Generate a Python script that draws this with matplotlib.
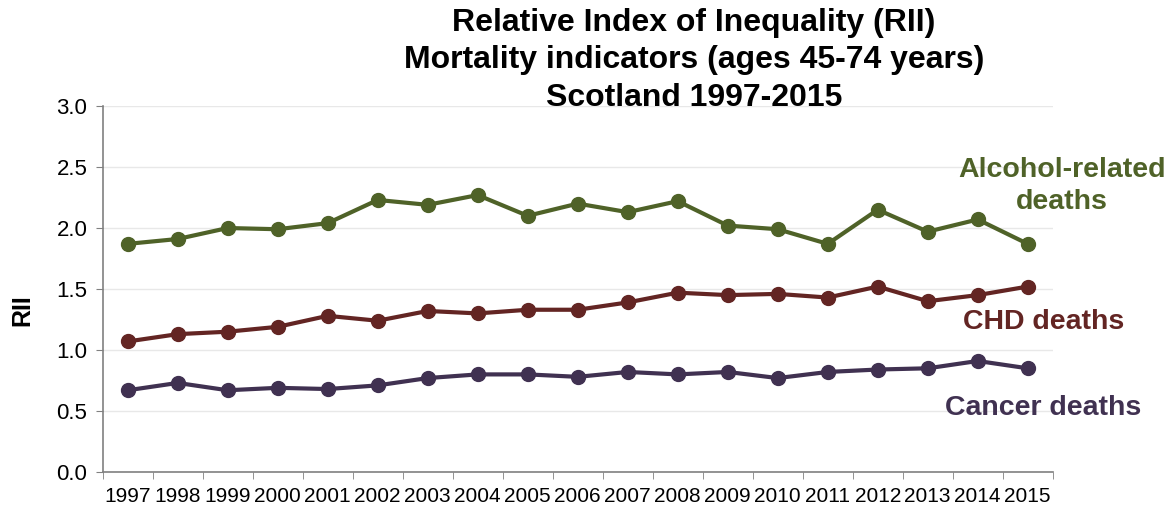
import matplotlib.pyplot as plt
import numpy as np

plt.rcParams['font.family'] = ['Liberation Sans', 'DejaVu Sans']

# RII values
years = [str(y) for y in range(1997, 2016)]
alcohol = [1.87, 1.91, 2.00, 1.99, 2.04, 2.23, 2.19, 2.27, 2.10, 2.20,
           2.13, 2.22, 2.02, 1.99, 1.87, 2.15, 1.97, 2.07, 1.87]
chd = [1.07, 1.13, 1.15, 1.19, 1.28, 1.24, 1.32, 1.30, 1.33, 1.33,
       1.39, 1.47, 1.45, 1.46, 1.43, 1.52, 1.40, 1.45, 1.52]
cancer = [0.67, 0.73, 0.67, 0.69, 0.68, 0.71, 0.77, 0.80, 0.80, 0.78,
          0.82, 0.80, 0.82, 0.77, 0.82, 0.84, 0.85, 0.91, 0.85]

green = '#4F6228'
red = '#632523'
purple = '#403151'

fig = plt.figure(figsize=(11.71, 5.09), dpi=100)
ax = fig.add_axes([0.0877, 0.0727, 0.8113, 0.719])

x = np.arange(len(years))
for vals, c in [(alcohol, green), (chd, red), (cancer, purple)]:
    ax.plot(x, vals, color=c, linewidth=3, marker='o', markersize=10, zorder=3)

ax.set_xlim(-0.5, len(years) - 0.5)
ax.set_ylim(0, 3.0)
ax.set_yticks(np.arange(0, 3.01, 0.5))
ax.set_yticklabels([f'{v:.1f}' for v in np.arange(0, 3.01, 0.5)], fontsize=16)
ax.set_xticks(x)
ax.set_xticklabels(years, fontsize=15)
ax.set_xticks(np.arange(-0.5, len(years)), minor=True)
ax.tick_params(axis='x', which='major', length=0, pad=11)
ax.tick_params(axis='x', which='minor', length=5, color='#808080')
ax.tick_params(axis='y', length=5, color='#808080', pad=6)
ax.grid(axis='y', color='#E8E8E8', linewidth=1)
ax.set_axisbelow(True)
for s in ['top', 'right']:
    ax.spines[s].set_visible(False)
for s in ['left', 'bottom']:
    ax.spines[s].set_color('#808080')
    ax.spines[s].set_linewidth(1.2)

fig.text(22 / 1171, 1 - 310 / 509, 'RII', fontsize=18, fontweight='bold',
         rotation=90, ha='center', va='center')

fig.text(694 / 1171, 1 - 8 / 509, 'Relative Index of Inequality (RII)\nMortality indicators (ages 45-74 years)\nScotland 1997-2015',
         ha='center', va='top', fontsize=23, fontweight='bold', linespacing=1.32)

fig.text(1062 / 1171, 1 - 186 / 509, 'Alcohol-related\ndeaths', color=green, fontsize=20.5,
         fontweight='bold', ha='center', va='center', linespacing=1.3)
fig.text(1044 / 1171, 1 - 322 / 509, 'CHD deaths', color=red, fontsize=20.5,
         fontweight='bold', ha='center', va='center')
fig.text(1043 / 1171, 1 - 408 / 509, 'Cancer deaths', color=purple, fontsize=20.5,
         fontweight='bold', ha='center', va='center')

plt.savefig('out.png', dpi=100)
